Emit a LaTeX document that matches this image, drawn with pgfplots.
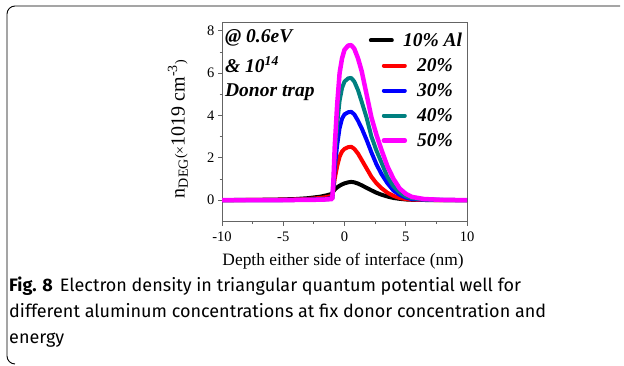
\documentclass[border=0pt]{standalone}
\usepackage{fontspec}
\setmainfont{Liberation Serif}
\newfontfamily\capfont{Fira Sans}
\usepackage{pgfplots}
\pgfplotsset{compat=1.18}
\definecolor{tealc}{RGB}{0,128,128}
\definecolor{magc}{RGB}{255,0,255}
\definecolor{redc}{RGB}{255,0,0}
\definecolor{bluec}{RGB}{0,0,255}
\definecolor{axgray}{RGB}{100,100,100}
\begin{document}
\begin{tikzpicture}
\useasboundingbox (0pt,0pt) rectangle (624pt,366pt);
\draw[line width=0.9pt] (620pt,360pt) -- (15pt,360pt) arc[start angle=90,end angle=180,radius=8pt] -- (7pt,10pt) arc[start angle=180,end angle=270,radius=8pt];
\begin{axis}[
  at={(222pt,144.3pt)}, anchor=south west,
  width=245pt, height=199pt, scale only axis,
  xmin=-10, xmax=10, ymin=-1.02, ymax=8.38,
  xtick={-10,-5,0,5,10}, xticklabels={-10,-5,0,5,10},
  ytick={0,2,4,6,8}, yticklabels={0,2,4,6,8},
  minor x tick num=1, minor y tick num=1,
  tick align=outside, xtick pos=bottom, ytick pos=left,
  major tick length=4pt, minor tick length=2.5pt,
  axis line style={axgray, line width=0.9pt},
  tick style={axgray, line width=0.8pt},
  tick label style={font=\fontsize{14.5}{15}\selectfont, black},
  xticklabel style={yshift=-3pt},
  xlabel={Depth either side of interface (nm)},
  xlabel style={font=\fontsize{17.4}{18}\selectfont, at={(axis description cs:0.494,-0.2)}, anchor=center},
  ylabel={n\textsubscript{DEG}{\fontsize{14}{14}\selectfont(×}1019 cm\textsuperscript{-3}{\fontsize{14}{14}\selectfont)}},
  ylabel style={font=\fontsize{20}{20}\selectfont, at={(axis description cs:-0.18,0.466)}, anchor=center},
  legend style={at={(rel axis cs:0.985,0.955)}, anchor=north east, draw=none, fill=none,
     font=\bfseries\itshape\fontsize{19.5}{20}\selectfont, row sep=8.5pt, inner sep=0pt,
     nodes={inner sep=1pt},
     /tikz/every odd column/.append style={column sep=9pt}},
  legend cell align=left,
  legend image code/.code={\draw[#1] (0pt,0pt) -- (21pt,0pt);},
  every axis plot/.append style={line join=round, line cap=round},
]
\addplot[black, line width=4pt, legend image post style={xshift=-13pt}] coordinates {
(-10,0) (-6,0.02) (-4,0.05) (-3,0.09) (-2,0.16) (-1.5,0.22) (-1.0,0.3) (-0.9,0.42) (-0.8,0.5) (-0.6,0.6) (-0.4,0.68) (-0.2,0.74) (0,0.79) (0.3,0.84) (0.55,0.86) (0.8,0.84) (1.1,0.78) (1.4,0.7) (1.8,0.58) (2.2,0.46) (2.6,0.35) (3.0,0.26) (3.5,0.17) (4.0,0.1) (4.5,0.06) (5.0,0.03) (5.5,0.015) (6.5,0.005) (8,0) (10,0)};
\addlegendentry{\hspace*{-14pt}10\% Al}
\addplot[redc, line width=4pt] coordinates {
(-10,0) (-6,0.01) (-4,0.03) (-3,0.05) (-2,0.1) (-1.5,0.14) (-1.0,0.2) (-0.9,0.5) (-0.8,1.0) (-0.6,1.6) (-0.4,2.05) (-0.2,2.3) (0,2.42) (0.3,2.5) (0.55,2.52) (0.8,2.42) (1.1,2.2) (1.4,1.9) (1.8,1.5) (2.2,1.1) (2.6,0.8) (3.0,0.57) (3.5,0.35) (4.0,0.2) (4.5,0.1) (5.0,0.05) (5.5,0.02) (6.5,0.01) (8,0) (10,0)};
\addlegendentry{20\%}
\addplot[bluec, line width=4pt] coordinates {
(-10,0) (-6,0) (-4,0.01) (-3,0.02) (-2,0.04) (-1.5,0.06) (-1.0,0.1) (-0.9,0.6) (-0.8,1.5) (-0.6,2.6) (-0.4,3.4) (-0.2,3.85) (0,4.05) (0.3,4.15) (0.55,4.17) (0.8,4.05) (1.1,3.75) (1.4,3.4) (1.8,2.85) (2.2,2.25) (2.6,1.7) (3.0,1.25) (3.5,0.8) (4.0,0.45) (4.5,0.25) (5.0,0.12) (5.5,0.05) (6.5,0.02) (8,0.005) (10,0)};
\addlegendentry{30\%}
\addplot[tealc, line width=4pt] coordinates {
(-10,0) (-6,0) (-4,0.005) (-3,0.01) (-2,0.03) (-1.5,0.04) (-1.0,0.07) (-0.9,0.8) (-0.8,2.0) (-0.6,3.6) (-0.4,4.7) (-0.2,5.3) (0,5.6) (0.3,5.75) (0.55,5.77) (0.8,5.6) (1.1,5.2) (1.4,4.65) (1.8,3.9) (2.2,3.0) (2.6,2.35) (3.0,1.8) (3.5,1.1) (4.0,0.65) (4.5,0.36) (5.0,0.18) (5.5,0.09) (6.5,0.03) (8,0.01) (10,0)};
\addlegendentry{40\%}
\addplot[magc, line width=4.5pt] coordinates {
(-10,0) (-6,0) (-4,0.005) (-3,0.01) (-2,0.02) (-1.5,0.03) (-1.0,0.05) (-0.9,1.0) (-0.8,2.5) (-0.6,4.5) (-0.4,6.0) (-0.2,6.7) (0,7.1) (0.3,7.3) (0.55,7.32) (0.8,7.15) (1.1,6.7) (1.4,6.1) (1.8,5.0) (2.2,3.9) (2.6,3.1) (3.0,2.4) (3.5,1.6) (4.0,1.0) (4.5,0.55) (5.0,0.3) (5.5,0.15) (6.5,0.05) (8,0.01) (10,0)};
\addlegendentry{50\%}
\node[anchor=west, inner sep=0pt, font=\bfseries\itshape\fontsize{19.5}{20}\selectfont] at (rel axis cs:0.012,0.925) {@ 0.6eV};
\node[anchor=west, inner sep=0pt, font=\bfseries\itshape\fontsize{19.5}{20}\selectfont] at (rel axis cs:0.012,0.79) {\& 10\textsuperscript{14}};
\node[anchor=west, inner sep=0pt, font=\bfseries\itshape\fontsize{19.5}{20}\selectfont] at (rel axis cs:0.012,0.65) {Donor trap};
\end{axis}
\node[anchor=north west, align=left, inner sep=0pt, font=\capfont\fontsize{18}{26}\selectfont] at (9pt,89pt) {\textbf{Fig. 8}\hspace{7pt}Electron density in triangular quantum potential well for\\different aluminum concentrations at fix donor concentration and\\energy};
\end{tikzpicture}
\end{document}
